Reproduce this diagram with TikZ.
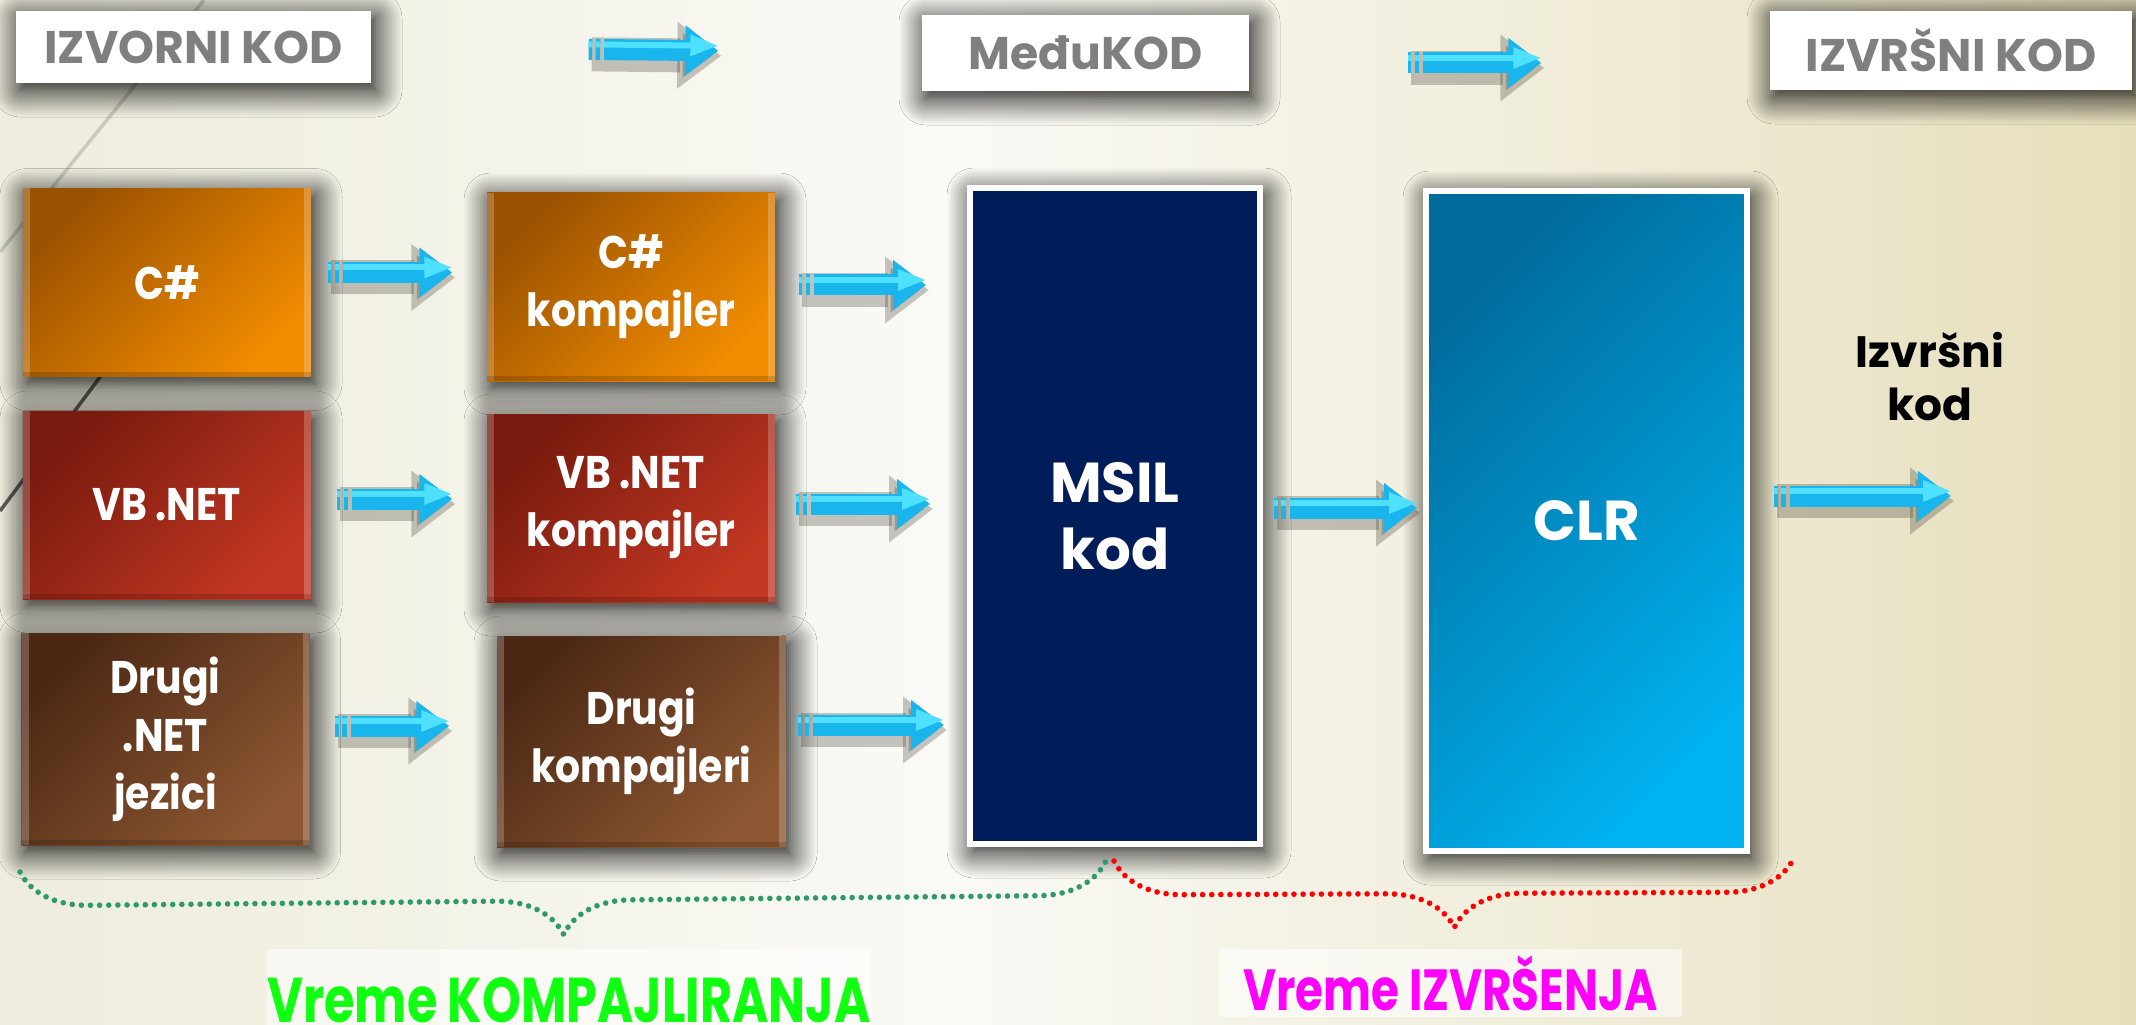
\documentclass[tikz,border=0pt]{standalone}
\usepackage{fontspec}
\setmainfont{Poppins}
\newfontfamily\boxfamily{Poppins}[FakeStretch=0.86]
\newfontfamily\labelfamily{Poppins}[FakeStretch=0.78]
\usetikzlibrary{arrows.meta,decorations.pathreplacing,shadows.blur}

\definecolor{bgleft}{HTML}{EEECDC}
\definecolor{bgmid}{HTML}{FAFAF6}
\definecolor{bgright}{HTML}{E6DFBC}
\definecolor{headgray}{HTML}{7F7F7F}
\definecolor{orangedark}{HTML}{9A5200}
\definecolor{orangelight}{HTML}{F28C00}
\definecolor{reddark}{HTML}{781A0E}
\definecolor{redlight}{HTML}{C23722}
\definecolor{browndark}{HTML}{4C2814}
\definecolor{brownlight}{HTML}{8C5732}
\definecolor{msilblue}{HTML}{001D5A}
\definecolor{clrdark}{HTML}{006C9C}
\definecolor{clrlight}{HTML}{00B2F0}
\definecolor{flowcyan}{HTML}{18B6EC}
\definecolor{flowlight}{HTML}{4FE0FF}
\definecolor{bracegreen}{HTML}{2E9A6A}
\definecolor{labelgreen}{HTML}{11FF11}
\definecolor{labelpink}{HTML}{FF00FF}

\newcommand{\boxfont}{\boxfamily\bfseries\fontsize{13}{16.5}\selectfont}
\newcommand{\bigfont}{\bfseries\fontsize{16}{19}\selectfont}
\newcommand{\headfont}{\bfseries\fontsize{13}{15}\selectfont}

\tikzset{
  glow/.style={blur shadow={shadow xshift=0.04cm, shadow yshift=-0.07cm,
    shadow blur radius=0.27cm, shadow blur steps=14, shadow opacity=100}},
  bevel/.style={path picture={
    \fill[white, opacity=0.22] (path picture bounding box.north west) rectangle ([xshift=0.07cm]path picture bounding box.south west);
    \fill[white, opacity=0.22] ([xshift=-0.07cm]path picture bounding box.north east) rectangle (path picture bounding box.south east);
    \fill[black, opacity=0.15] ([yshift=0.05cm]path picture bounding box.south west) rectangle (path picture bounding box.south east);}},
  headbox/.style={fill=white, text=headgray, font=\headfont, glow, inner sep=0pt},
  langbox/.style={minimum width=2.88cm, minimum height=1.88cm, align=center,
    text=white, font=\boxfont, glow, bevel, inner sep=0pt},
  orangebox/.style={langbox, top color=orangedark, bottom color=orangelight, shading angle=45},
  redbox/.style={langbox, top color=reddark, bottom color=redlight, shading angle=45},
  brownbox/.style={langbox, top color=browndark, bottom color=brownlight, shading angle=45},
  codebox/.style={draw=white, line width=0.06cm, align=center, text=white,
    font=\bigfont, glow, inner sep=0pt},
  flow/.style={draw=flowcyan, line width=0.21cm,
    -{Triangle[width=0.48cm,length=0.33cm]},
    dash pattern=on 0.035cm off 0.035cm on 0.045cm off 0.04cm on 30cm,
    preaction={draw=black!80!olive, opacity=0.28, solid, line width=0.34cm, line join=round,
      -{Triangle[width=0.64cm,length=0.44cm]},
      transform canvas={shift={(0.03cm,-0.05cm)}}},
    postaction={draw=flowlight, line width=0.06cm,
      -{Triangle[width=0.2cm,length=0.28cm]},
      transform canvas={yshift=0.05cm}}},
  timebrace/.style={decorate, decoration={brace, mirror, amplitude=0.68cm},
    line width=1.6pt, line cap=round, dash pattern=on 0pt off 2.6pt},
  timelabel/.style={fill=white, fill opacity=0.55, text opacity=1, inner sep=0pt}
}

\begin{document}
\begin{tikzpicture}
    \useasboundingbox (0,0) rectangle (21.36,-10.25);
    % background
    \shade[left color=bgleft, right color=bgmid] (0,0) rectangle (9.6,-10.25);
    \shade[left color=bgmid, right color=bgright] (9.59,0) rectangle (21.36,-10.25);
    \draw[black!15!bgleft, line width=1pt] (2.04,0) -- (0,-2.52);
    \draw[black!60!bgleft, line width=1pt] (1.8,-2.7) -- (0,-5.11);

    % HEADERS
    \node[headbox, minimum width=3.55cm, minimum height=0.72cm] (izv) at (1.935,-0.47) {IZVORNI KOD};
    \node[headbox, minimum width=3.27cm, minimum height=0.76cm] (med) at (10.855,-0.53) {MeđuKOD};
    \node[headbox, minimum width=3.62cm, minimum height=0.79cm] (izr) at (19.51,-0.505) {IZVRŠNI KOD};

    % SOURCE LANGUAGES AND COMPILERS
    \node[orangebox] (cs) at (1.67,-2.825) {C\#};
    \node[orangebox] (csk) at (6.31,-2.87) {C\#\\kompajler};
    \node[redbox] (vb) at (1.67,-5.05) {VB .NET};
    \node[redbox] (vbk) at (6.31,-5.08) {VB .NET\\kompajler};
    \node[brownbox, minimum height=2.12cm] (dr) at (1.655,-7.39) {Drugi\\.NET\\jezici};
    \node[brownbox, minimum width=2.89cm, minimum height=2.11cm] (drk) at (6.415,-7.415) {Drugi\\kompajleri};

    % MSIL AND CLR
    \node[codebox, fill=msilblue, minimum width=2.9cm, minimum height=6.56cm] (msil) at (11.15,-5.16) {MSIL\\kod};
    \node[codebox, top color=clrdark, bottom color=clrlight, shading angle=45,
      minimum width=3.21cm, minimum height=6.6cm] (clr) at (15.865,-5.21) {CLR};
    \node[align=center, font=\bfseries\fontsize{12.5}{15}\selectfont] (exe) at (19.30,-3.765) {Izvršni\\kod};
    \coordinate (out) at (19.51,-4.96);

    % ARROWS
    \draw[flow, shorten <=2.17cm, shorten >=2.03cm] (izv.east) -- (med.west);
    \draw[flow, shorten <=1.58cm, shorten >=2.28cm] ([yshift=-0.1cm]med.east) -- ([yshift=-0.1cm]med.east -| izr.west);
    \draw[flow, shorten <=0.16cm, shorten >=0.34cm] ([yshift=0.1cm]cs.east) -- ([yshift=0.1cm]cs.east -| csk.west);
    \draw[flow, shorten <=0.23cm, shorten >=0.41cm] ([yshift=0.02cm]csk.east) -- ([yshift=0.02cm]csk.east -| msil.west);
    \draw[flow, shorten <=0.25cm, shorten >=0.34cm] ([yshift=0.06cm]vb.east) -- ([yshift=0.06cm]vb.east -| vbk.west);
    \draw[flow, shorten <=0.2cm, shorten >=0.37cm] ([yshift=0.04cm]vbk.east) -- ([yshift=0.04cm]vbk.east -| msil.west);
    \draw[flow, shorten <=0.25cm, shorten >=0.47cm] ([yshift=0.13cm]dr.east) -- ([yshift=0.13cm]dr.east -| drk.west);
    \draw[flow, shorten <=0.11cm, shorten >=0.23cm] ([yshift=0.165cm]drk.east) -- ([yshift=0.165cm]drk.east -| msil.west);
    \draw[flow, shorten <=0.11cm, shorten >=0.06cm] ([yshift=0.08cm]msil.east) -- ([yshift=0.08cm]msil.east -| clr.west);
    \draw[flow, shorten <=0.24cm] (clr.east |- out) -- (out);

    % TIME BRACES
    \coordinate (gl) at (0.20,-8.72);
    \coordinate (gr) at (11.06,-8.61);
    \coordinate (rl) at (11.14,-8.61);
    \coordinate (rr) at (17.94,-8.58);
    \draw[timebrace, bracegreen] (gl) -- (gr);
    \draw[timebrace, red] (rl) -- (rr);
    \node[timelabel, text=labelgreen, font=\labelfamily\bfseries\fontsize{18}{20}\selectfont,
      minimum width=5.98cm, minimum height=1.02cm] (komp) at (5.69,-10.0) {Vreme KOMPAJLIRANJA};
    \node[timelabel, text=labelpink, font=\labelfamily\bfseries\fontsize{16.5}{19}\selectfont,
      minimum width=4.63cm, minimum height=0.68cm] (izvr) at (14.505,-9.83) {Vreme IZVRŠENJA};
\end{tikzpicture}
\end{document}
